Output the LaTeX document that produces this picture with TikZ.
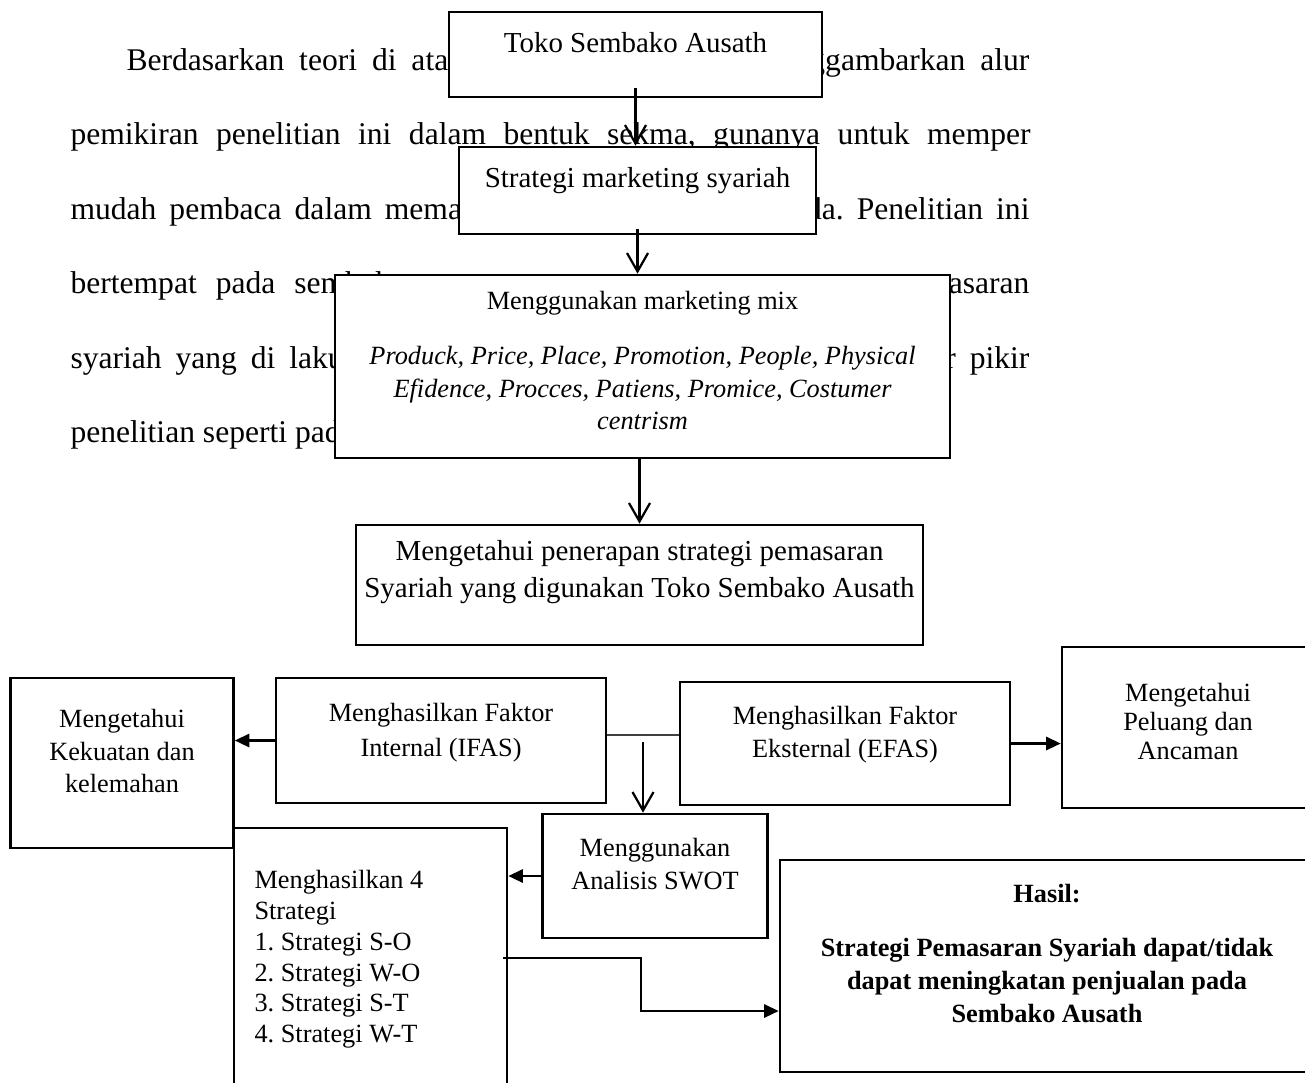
\documentclass[tikz,border=0pt]{standalone}
\usepackage{fontspec}
\setmainfont{Liberation Serif}
\usetikzlibrary{arrows.meta, positioning}
\frenchspacing
\tikzstyle{box} = [rectangle, draw=black, fill=white, line width=1pt, inner sep=0pt]
\tikzstyle{boxtext} = [inner sep=0pt, align=center]
\tikzstyle{bodyline} = [inner sep=0pt, anchor=base west, font=\fontsize{12}{14}\selectfont]
\tikzstyle{bodyend} = [bodyline, anchor=base east]
\tikzstyle{openarrow} = [line width=0.85pt, -{Straight Barb[length=7pt, width=8pt]}]
\tikzstyle{fillarrow} = [line width=0.85pt, -{Triangle[length=5.5pt, width=5pt]}]
\tikzstyle{thinline} = [line width=0.4pt, draw=black!75]
\tikzset{
	boxsize/.style 2 args = {minimum width=#1*0.38pt, minimum height=#2*0.38pt},
	ften/.style = {font=\fontsize{10}{#1}\selectfont},
	feleven/.style = {font=\fontsize{11}{#1}\selectfont}
}
\newcommand\wsp[1]{\spaceskip=#1\relax}

\begin{document}
\begin{tikzpicture}[x=0.38pt, y=-0.38pt]
\useasboundingbox (0,0) rectangle (1305,1082);
\clip (0,0) rectangle (1305,1082);

% Paragraph behind the scheme (visible parts)
\node (par1a) [bodyline] at (126,70) {\wsp{5.66pt}Berdasarkan teori di atas,};
\node (par1b) [bodyend] at (1030,70) {\wsp{5.66pt}ggambarkan alur};
\node (par2) [bodyline] at (70,144) {\makebox[364.8pt][s]{pemikiran penelitian ini dalam bentuk sekma, gunanya untuk memper}};
\node (par3a) [bodyline] at (70,219) {\wsp{4.94pt}mudah pembaca dalam memahami};
\node (par3b) [bodyend] at (1030,219) {\wsp{4.94pt}ada. Penelitian ini};
\node (par4a) [bodyline] at (70,293) {\wsp{7.22pt}bertempat pada sembako};
\node (par4b) [bodyend] at (1030,293) {pemasaran};
\node (par5a) [bodyline] at (70,368) {\wsp{5.28pt}syariah yang di laku};
\node (par5b) [bodyend] at (1030,368) {\wsp{5.28pt}ur pikir};
\node (par6) [bodyline] at (70,442) {penelitian seperti pada};

% Placement of boxes
\node (toko) [box, boxsize={373}{85}] at (635.5,54.5) {};
\node (strat) [box, boxsize={357}{87}] at (637.5,190.5) {};
\node (mix) [box, boxsize={615}{183}] at (642.5,366.5) {};
\node (terap) [box, boxsize={567}{120}] at (639.5,585) {};
\node (kuat) [box, boxsize={223}{170}] at (122,763) {};
\node (ifas) [box, boxsize={330}{125}] at (441,740.5) {};
\node (efas) [box, boxsize={330}{123}] at (845,743.5) {};
\node (peluang) [box, boxsize={252}{161}] at (1188,727.5) {};
\node (strat4) [box, boxsize={273}{272}] at (370.5,964) {};
\node (swot) [box, boxsize={225}{124}] at (655,876) {};
\node (hasil) [box, boxsize={534}{212}] at (1047,966) {};

% Texts of the boxes
\node (tokoTxt) [boxtext, feleven=13, below=8pt of toko.north] {Toko Sembako Ausath};
\node (stratTxt) [boxtext, feleven=13, below=8pt of strat.north] {Strategi marketing syariah};
\node (mixTtl) [boxtext, ften=12.35, below=6.5pt of mix.north] {Menggunakan marketing mix};
\node (mixTxt) [boxtext, font=\fontsize{10}{12.35}\selectfont\itshape, below=27.4pt of mix.north] {Produck, Price, Place, Promotion, People, Physical\\ Efidence, Procces, Patiens, Promice, Costumer\\ centrism};
\node (terapTxt) [boxtext, feleven=14, below=6.1pt of terap.north] {Mengetahui penerapan strategi pemasaran\\ Syariah yang digunakan Toko Sembako Ausath};
\node (kuatTxt) [boxtext, ften=12.35, below=12.2pt of kuat.north] {Mengetahui\\ Kekuatan dan\\ kelemahan};
\node (ifasTxt) [boxtext, ften=13.3, below=9.9pt of ifas.north] {Menghasilkan Faktor\\ Internal (IFAS)};
\node (efasTxt) [boxtext, ften=12.5, below=9.5pt of efas.north] {Menghasilkan Faktor\\ Eksternal (EFAS)};
\node (peluangTxt) [boxtext, ften=11, below=14pt of peluang.north] {Mengetahui\\ Peluang dan\\ Ancaman};
\node (swotTxt) [boxtext, ften=12.5, below=9.5pt of swot.north] {Menggunakan\\ Analisis SWOT};
\node (strat4Txt) [boxtext, ften=11.7, align=left, anchor=north west] at (254,870) {Menghasilkan 4\\ Strategi\\ 1. Strategi S-O\\ 2. Strategi W-O\\ 3. Strategi S-T\\ 4. Strategi W-T};
\node (hasilTtl) [boxtext, font=\fontsize{10}{12.5}\selectfont\bfseries, below=9.5pt of hasil.north] {Hasil:};
\node (hasilTxt) [boxtext, font=\fontsize{10}{12.5}\selectfont\bfseries, below=30pt of hasil.north] {Strategi Pemasaran Syariah dapat/tidak\\ dapat meningkatan penjualan pada\\ Sembako Ausath};

% Placement of edges
\draw [openarrow] ([yshift=3.8pt]toko.south) -- (toko.south |- strat.north);
\draw [openarrow] ([yshift=2.3pt]strat.south) -- (strat.south |- mix.north);
\draw [openarrow] (mix.south -| terap.north) -- (terap.north);

% internal and external factors
\coordinate (split) at (643,735);
\draw [thinline] (ifas.east |- split) -- (efas.west |- split);
\draw [openarrow] ([yshift=-2.7pt]split) -- (split |- swot.north);
\draw [fillarrow] (ifas.west) -- (ifas.west -| kuat.east);
\draw [fillarrow] (efas.east) -- (efas.east -| peluang.west);

% swot to strategies and result
\draw [fillarrow] (swot.west) -- (swot.west -| strat4.east);
\coordinate (bend) at (641,985);
\draw [fillarrow] ([xshift=-1.9pt, yshift=2.3pt]strat4.east) -| (bend) |- ([yshift=-17.1pt]hasil.west);

\end{tikzpicture}
\end{document}
